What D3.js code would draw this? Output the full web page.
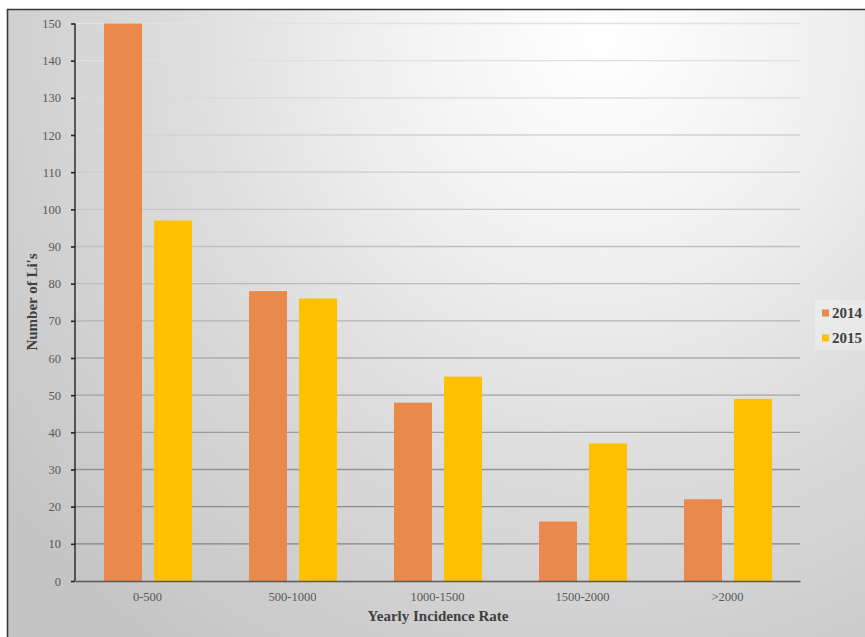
<!DOCTYPE html>
<html>
<head>
<meta charset="utf-8">
<script src="https://cdn.jsdelivr.net/npm/d3@7"></script>
<style>
  html, body { margin: 0; padding: 0; background: #ffffff; }
  svg { display: block; }
</style>
</head>
<body>
<script>
// Number of LIs per yearly incidence-rate band, 2014 vs 2015
const categories = ["0-500", "500-1000", "1000-1500", "1500-2000", ">2000"];
const seriesNames = ["2014", "2015"];
const values2014 = [150, 78, 48, 16, 22];
const values2015 = [97, 76, 55, 37, 49];
const yTicks = [0, 10, 20, 30, 40, 50, 60, 70, 80, 90, 100, 110, 120, 130, 140, 150];
const colors = ["#e9894b", "#ffc000"];

const W = 865, H = 637;
const margin = { left: 75, right: 65, top: 23.5, bottom: 56 };
const plotW = 800 - margin.left;
const plotH = 581 - margin.top;
const serif = "'Liberation Serif', 'Times New Roman', serif";

const svg = d3.select("body").append("svg").attr("width", W).attr("height", H);
const defs = svg.append("defs");

// soft radial background, brightest toward the upper right
const bg = defs.append("radialGradient").attr("id", "bg")
  .attr("gradientUnits", "userSpaceOnUse")
  .attr("cx", 600).attr("cy", 40).attr("r", 760);
bg.append("stop").attr("offset", "0%").attr("stop-color", "#ffffff");
bg.append("stop").attr("offset", "25%").attr("stop-color", "#f3f3f3");
bg.append("stop").attr("offset", "60%").attr("stop-color", "#dadada");
bg.append("stop").attr("offset", "100%").attr("stop-color", "#c4c4c4");

// gridlines darken toward the bottom of the plot
const gridGrad = defs.append("linearGradient").attr("id", "gridGrad")
  .attr("gradientUnits", "userSpaceOnUse")
  .attr("x1", 0).attr("y1", margin.top).attr("x2", 0).attr("y2", margin.top + plotH);
gridGrad.append("stop").attr("offset", "0%").attr("stop-color", "#e2e2e2");
gridGrad.append("stop").attr("offset", "45%").attr("stop-color", "#b8b8b8");
gridGrad.append("stop").attr("offset", "100%").attr("stop-color", "#777777");

svg.append("rect").attr("x", 7).attr("y", 9).attr("width", W - 7).attr("height", H - 9)
  .attr("fill", "url(#bg)");
// frame
svg.append("path").attr("d", `M7.5,${H} V9.5 H${W}`)
  .attr("fill", "none").attr("stroke", "#3a3a3a").attr("stroke-width", 1.6);

const g = svg.append("g").attr("transform", `translate(${margin.left},${margin.top})`);

const x = d3.scaleBand().domain(categories).range([0, plotW]).paddingInner(0).paddingOuter(0);
const x1 = d3.scaleBand().domain(seriesNames).range([29, 117]).paddingInner(0.24);
const y = d3.scaleLinear().domain([0, 150]).range([plotH, 0]);

// gridlines
g.append("g").selectAll("line").data(yTicks.filter(d => d > 0)).join("line")
  .attr("x1", 0).attr("x2", plotW)
  .attr("y1", d => y(d)).attr("y2", d => y(d))
  .attr("stroke", "url(#gridGrad)").attr("stroke-width", 1.3);

// bars
const data = categories.map((c, i) => ({ cat: c, vals: [values2014[i], values2015[i]] }));
const groups = g.append("g").selectAll("g").data(data).join("g")
  .attr("transform", d => `translate(${x(d.cat)},0)`);
groups.selectAll("rect").data(d => d.vals.map((v, j) => ({ key: seriesNames[j], v, j })))
  .join("rect")
  .attr("x", d => x1(d.key))
  .attr("width", x1.bandwidth())
  .attr("y", d => y(d.v))
  .attr("height", d => plotH - y(d.v))
  .attr("fill", d => colors[d.j]);

// y axis
const yAxis = g.append("g").call(d3.axisLeft(y).tickValues(yTicks).tickSize(4).tickPadding(10));
yAxis.select(".domain").attr("stroke", "#222").attr("stroke-width", 1.4).attr("d", `M0,${plotH}V0`);
yAxis.selectAll(".tick line").attr("stroke", "#222").attr("stroke-width", 1.6);
yAxis.selectAll(".tick text")
  .attr("font-family", serif).attr("font-size", 12.5).attr("fill", "#595959");

// x axis
const xAxis = g.append("g").attr("transform", `translate(0,${plotH})`)
  .call(d3.axisBottom(x).tickSize(0).tickPadding(11));
xAxis.select(".domain").attr("stroke", "#5a5a5a").attr("stroke-width", 1.6);
xAxis.selectAll(".tick text")
  .attr("font-family", serif).attr("font-size", 12.5).attr("fill", "#595959");

// axis titles
svg.append("text").attr("x", 438).attr("y", 621)
  .attr("text-anchor", "middle")
  .attr("font-family", serif)
  .attr("font-weight", "bold").attr("font-size", 15).attr("fill", "#404040")
  .text("Yearly Incidence Rate");
svg.append("text")
  .attr("transform", `translate(37,302) rotate(-90)`)
  .attr("text-anchor", "middle")
  .attr("font-family", serif)
  .attr("font-weight", "bold").attr("font-size", 15).attr("fill", "#404040")
  .text("Number of Li's");

// legend
svg.append("rect").attr("x", 815).attr("y", 300).attr("width", 50).attr("height", 50)
  .attr("fill", "#ffffff").attr("opacity", 0.25);
const legend = svg.append("g").selectAll("g").data(seriesNames).join("g")
  .attr("transform", (d, i) => `translate(822,${313 + i * 25})`);
legend.append("rect").attr("x", 0).attr("y", -3.5).attr("width", 7).attr("height", 7)
  .attr("fill", (d, i) => colors[i]);
legend.append("text").attr("x", 10).attr("y", 5)
  .attr("font-family", serif)
  .attr("font-weight", "bold").attr("font-size", 15).attr("fill", "#404040")
  .text(d => d);
</script>
</body>
</html>
